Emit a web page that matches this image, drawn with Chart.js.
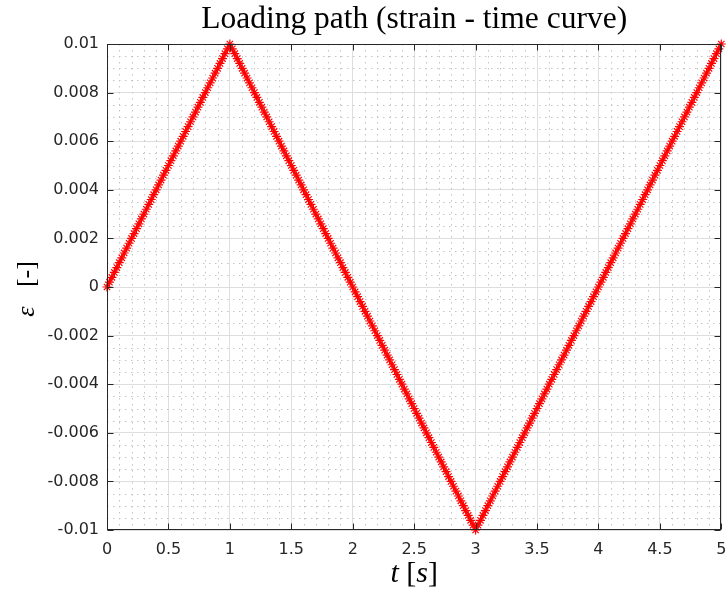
<!DOCTYPE html>
<html><head><meta charset="utf-8">
<script src="https://cdn.jsdelivr.net/npm/chart.js@4/dist/chart.umd.min.js"></script>
<style>html,body{margin:0;padding:0;background:#fff}canvas{display:block}</style>
</head><body>
<canvas id="c" width="727" height="596"></canvas>
<script>
// time [s]
const timeS = [
0,0.02,0.04,0.06,0.08,0.1,0.12,0.14,0.16,0.18,0.2,0.22,0.24,0.26,0.28,0.3,0.32,0.34,0.36,0.38,0.4,0.42,0.44,0.46,0.48,0.5,0.52,0.54,0.56,0.58,0.6,0.62,0.64,0.66,0.68,0.7,0.72,0.74,0.76,0.78,0.8,0.82,0.84,0.86,0.88,0.9,0.92,0.94,0.96,0.98,
1,1.02,1.04,1.06,1.08,1.1,1.12,1.14,1.16,1.18,1.2,1.22,1.24,1.26,1.28,1.3,1.32,1.34,1.36,1.38,1.4,1.42,1.44,1.46,1.48,1.5,1.52,1.54,1.56,1.58,1.6,1.62,1.64,1.66,1.68,1.7,1.72,1.74,1.76,1.78,1.8,1.82,1.84,1.86,1.88,1.9,1.92,1.94,1.96,1.98,
2,2.02,2.04,2.06,2.08,2.1,2.12,2.14,2.16,2.18,2.2,2.22,2.24,2.26,2.28,2.3,2.32,2.34,2.36,2.38,2.4,2.42,2.44,2.46,2.48,2.5,2.52,2.54,2.56,2.58,2.6,2.62,2.64,2.66,2.68,2.7,2.72,2.74,2.76,2.78,2.8,2.82,2.84,2.86,2.88,2.9,2.92,2.94,2.96,2.98,
3,3.02,3.04,3.06,3.08,3.1,3.12,3.14,3.16,3.18,3.2,3.22,3.24,3.26,3.28,3.3,3.32,3.34,3.36,3.38,3.4,3.42,3.44,3.46,3.48,3.5,3.52,3.54,3.56,3.58,3.6,3.62,3.64,3.66,3.68,3.7,3.72,3.74,3.76,3.78,3.8,3.82,3.84,3.86,3.88,3.9,3.92,3.94,3.96,3.98,
4,4.02,4.04,4.06,4.08,4.1,4.12,4.14,4.16,4.18,4.2,4.22,4.24,4.26,4.28,4.3,4.32,4.34,4.36,4.38,4.4,4.42,4.44,4.46,4.48,4.5,4.52,4.54,4.56,4.58,4.6,4.62,4.64,4.66,4.68,4.7,4.72,4.74,4.76,4.78,4.8,4.82,4.84,4.86,4.88,4.9,4.92,4.94,4.96,4.98,
5];

// strain [-], loading 0 -> 1 s (51 values)
const strainLoading = [
0,0.0002,0.0004,0.0006,0.0008,0.001,0.0012,0.0014,0.0016,0.0018,0.002,0.0022,0.0024,0.0026,0.0028,0.003,0.0032,0.0034,0.0036,0.0038,0.004,0.0042,0.0044,0.0046,0.0048,0.005,0.0052,0.0054,0.0056,0.0058,0.006,0.0062,0.0064,0.0066,0.0068,0.007,0.0072,0.0074,0.0076,0.0078,0.008,0.0082,0.0084,0.0086,0.0088,0.009,0.0092,0.0094,0.0096,0.0098,0.01];

// strain [-], unloading 1.02 -> 3 s (100 values)
const strainUnloading = [
0.0098,0.0096,0.0094,0.0092,0.009,0.0088,0.0086,0.0084,0.0082,0.008,0.0078,0.0076,0.0074,0.0072,0.007,0.0068,0.0066,0.0064,0.0062,0.006,0.0058,0.0056,0.0054,0.0052,0.005,0.0048,0.0046,0.0044,0.0042,0.004,0.0038,0.0036,0.0034,0.0032,0.003,0.0028,0.0026,0.0024,0.0022,0.002,0.0018,0.0016,0.0014,0.0012,0.001,0.0008,0.0006,0.0004,0.0002,
0,
-0.0002,-0.0004,-0.0006,-0.0008,-0.001,-0.0012,-0.0014,-0.0016,-0.0018,-0.002,-0.0022,-0.0024,-0.0026,-0.0028,-0.003,-0.0032,-0.0034,-0.0036,-0.0038,-0.004,-0.0042,-0.0044,-0.0046,-0.0048,-0.005,-0.0052,-0.0054,-0.0056,-0.0058,-0.006,-0.0062,-0.0064,-0.0066,-0.0068,-0.007,-0.0072,-0.0074,-0.0076,-0.0078,-0.008,-0.0082,-0.0084,-0.0086,-0.0088,-0.009,-0.0092,-0.0094,-0.0096,-0.0098,-0.01];

// strain [-], reloading 3.02 -> 5 s (100 values)
const strainReloading = [
-0.0098,-0.0096,-0.0094,-0.0092,-0.009,-0.0088,-0.0086,-0.0084,-0.0082,-0.008,-0.0078,-0.0076,-0.0074,-0.0072,-0.007,-0.0068,-0.0066,-0.0064,-0.0062,-0.006,-0.0058,-0.0056,-0.0054,-0.0052,-0.005,-0.0048,-0.0046,-0.0044,-0.0042,-0.004,-0.0038,-0.0036,-0.0034,-0.0032,-0.003,-0.0028,-0.0026,-0.0024,-0.0022,-0.002,-0.0018,-0.0016,-0.0014,-0.0012,-0.001,-0.0008,-0.0006,-0.0004,-0.0002,
0,
0.0002,0.0004,0.0006,0.0008,0.001,0.0012,0.0014,0.0016,0.0018,0.002,0.0022,0.0024,0.0026,0.0028,0.003,0.0032,0.0034,0.0036,0.0038,0.004,0.0042,0.0044,0.0046,0.0048,0.005,0.0052,0.0054,0.0056,0.0058,0.006,0.0062,0.0064,0.0066,0.0068,0.007,0.0072,0.0074,0.0076,0.0078,0.008,0.0082,0.0084,0.0086,0.0088,0.009,0.0092,0.0094,0.0096,0.0098,0.01];

const xTickValues = [0,0.5,1,1.5,2,2.5,3,3.5,4,4.5,5];
const xTickLabels = ['0','0.5','1','1.5','2','2.5','3','3.5','4','4.5','5'];
const yTickValues = [-0.01,-0.008,-0.006,-0.004,-0.002,0,0.002,0.004,0.006,0.008,0.01];
const yTickLabels = ['-0.01','-0.008','-0.006','-0.004','-0.002','0','0.002','0.004','0.006','0.008','0.01'];
const xMinorStep = 0.1;
const yMinorStep = 0.0005;

const titleText = 'Loading path (strain - time curve)';

const strainAll = strainLoading.concat(strainUnloading, strainReloading);
const points = timeS.map((t, i) => ({x: t, y: strainAll[i]}));

const INK = '#262626';

const matlabAxes = {
  id: 'matlabAxes',
  beforeDatasetsDraw(chart) {
    const {ctx, chartArea: a, scales: {x, y}} = chart;
    ctx.save();
    ctx.strokeStyle = '#c4c4c4';
    ctx.lineWidth = 1;
    ctx.setLineDash([1.5, 4.5]);
    ctx.beginPath();
    const nx = Math.round((x.max - x.min) / xMinorStep);
    for (let k = 1; k < nx; k++) {
      const v = x.min + k * xMinorStep;
      if (xTickValues.some(t => Math.abs(t - v) < 1e-9)) continue;
      const px = Math.round(x.getPixelForValue(v)) + 0.5;
      ctx.moveTo(px, a.top); ctx.lineTo(px, a.bottom);
    }
    const ny = Math.round((y.max - y.min) / yMinorStep);
    for (let k = 1; k < ny; k++) {
      const v = y.min + k * yMinorStep;
      if (yTickValues.some(t => Math.abs(t - v) < 1e-9)) continue;
      const py = Math.round(y.getPixelForValue(v)) + 0.5;
      ctx.moveTo(a.left, py); ctx.lineTo(a.right, py);
    }
    ctx.stroke();
    ctx.restore();
  },
  afterDraw(chart) {
    const {ctx, chartArea: a, scales: {x, y}} = chart;
    ctx.save();
    // box
    ctx.strokeStyle = INK;
    ctx.lineWidth = 1;
    ctx.setLineDash([]);
    const L = Math.round(a.left) + 0.5, R = Math.round(a.right) - 0.5;
    const T = Math.round(a.top) + 0.5, B = Math.round(a.bottom) - 0.5;
    ctx.strokeRect(L, T, R - L, B - T);
    // inward ticks
    const tl = 6;
    ctx.beginPath();
    xTickValues.forEach(v => {
      const px = Math.round(x.getPixelForValue(v)) + 0.5;
      ctx.moveTo(px, B); ctx.lineTo(px, B - tl);
      ctx.moveTo(px, T); ctx.lineTo(px, T + tl);
    });
    yTickValues.forEach(v => {
      const py = Math.round(y.getPixelForValue(v)) + 0.5;
      ctx.moveTo(L, py); ctx.lineTo(L + tl, py);
      ctx.moveTo(R, py); ctx.lineTo(R - tl, py);
    });
    ctx.stroke();

    const cx = (a.left + a.right) / 2;
    ctx.fillStyle = '#000';
    // title
    ctx.font = '31.5px "Liberation Serif"';
    ctx.textAlign = 'center';
    ctx.textBaseline = 'alphabetic';
    ctx.fillText(titleText, cx, 28);

    // x label: t [s]
    const parts = [['t', 'italic 30px "Liberation Serif"'], [' [', '30px "Liberation Serif"'], ['s', 'italic 30px "Liberation Serif"'], [']', '30px "Liberation Serif"']];
    let total = 0;
    parts.forEach(p => { ctx.font = p[1]; total += ctx.measureText(p[0]).width; });
    let xx = cx - total / 2;
    ctx.textAlign = 'left';
    parts.forEach(p => { ctx.font = p[1]; ctx.fillText(p[0], xx, 582); xx += ctx.measureText(p[0]).width; });

    // y label: ε [-]
    ctx.translate(34, (a.top + a.bottom) / 2 + 2);
    ctx.rotate(-Math.PI / 2);
    const yparts = [['ε', 'italic 26px "Liberation Serif"'], ['   [-]', '26px "Liberation Serif"']];
    total = 0;
    yparts.forEach(p => { ctx.font = p[1]; total += ctx.measureText(p[0]).width; });
    xx = -total / 2;
    yparts.forEach(p => { ctx.font = p[1]; ctx.fillText(p[0], xx, 0); xx += ctx.measureText(p[0]).width; });
    ctx.restore();
  }
};

new Chart(document.getElementById('c'), {
  type: 'line',
  data: {
    datasets: [{
      data: points,
      borderColor: '#ff0000',
      backgroundColor: '#ff0000',
      borderWidth: 1.2,
      pointStyle: 'star',
      pointRadius: 4.5,
      pointBorderColor: '#ff0000',
      pointBorderWidth: 1.2,
      pointHoverRadius: 4.5,
      tension: 0,
      fill: false,
      clip: false
    }]
  },
  options: {
    responsive: false,
    animation: false,
    devicePixelRatio: 1,
    layout: {padding: {top: 44, right: 5, left: 0, bottom: 0}},
    plugins: {legend: {display: false}, tooltip: {enabled: false}, title: {display: false}},
    scales: {
      x: {
        type: 'linear', min: 0, max: 5,
        afterBuildTicks: s => { s.ticks = xTickValues.map(v => ({value: v})); },
        afterFit: s => { s.height = 66; s.paddingLeft = 0; s.paddingRight = 0; },
        ticks: {
          autoSkip: false, maxRotation: 0, padding: 10, color: INK,
          font: {family: '"DejaVu Sans"', size: 16},
          callback: (v) => { const i = xTickValues.findIndex(t => Math.abs(t - v) < 1e-9); return i >= 0 ? xTickLabels[i] : ''; }
        },
        grid: {color: '#dedede', lineWidth: 1, drawTicks: false},
        border: {display: false}
      },
      y: {
        type: 'linear', min: -0.01, max: 0.01,
        afterBuildTicks: s => { s.ticks = yTickValues.map(v => ({value: v})); },
        afterFit: s => { s.width = 107; s.paddingTop = 0; s.paddingBottom = 0; },
        ticks: {
          autoSkip: false, padding: 8, color: INK,
          font: {family: '"DejaVu Sans"', size: 16},
          callback: (v) => { const i = yTickValues.findIndex(t => Math.abs(t - v) < 1e-9); return i >= 0 ? yTickLabels[i] : ''; }
        },
        grid: {color: '#dedede', lineWidth: 1, drawTicks: false},
        border: {display: false}
      }
    }
  },
  plugins: [matlabAxes]
});
</script>
</body></html>
